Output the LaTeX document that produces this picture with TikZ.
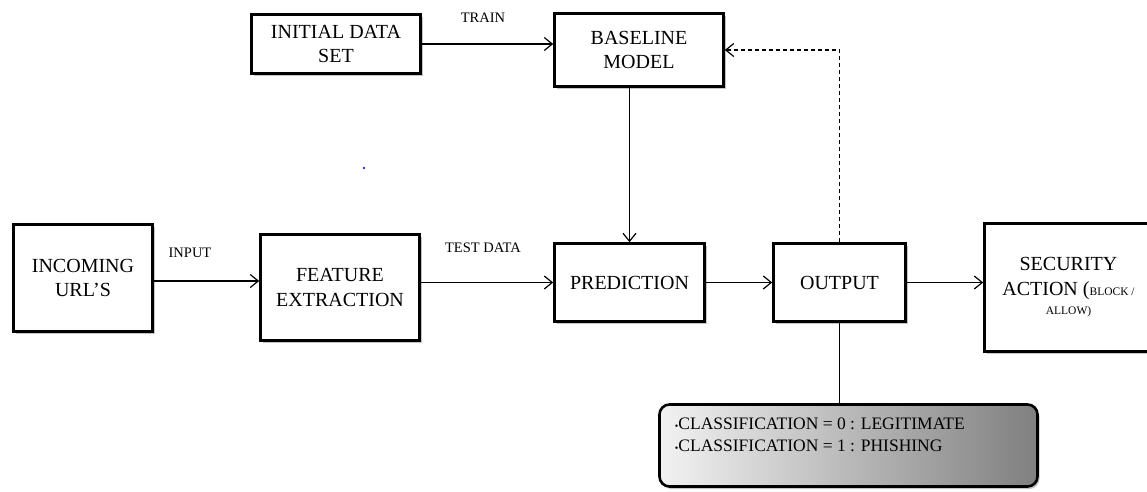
\documentclass[tikz,border=0pt]{standalone}
\usepackage{fontspec}
\setmainfont{Liberation Serif}
\usetikzlibrary{arrows.meta,shadows}
\definecolor{shadowgray}{HTML}{8c8c8c}
\definecolor{dotblue}{HTML}{3030ff}

\begin{document}
\begin{tikzpicture}[
        box/.style = {draw, rectangle, line width = 2.6pt, fill = white, align = center,
            font = \fontsize{20}{24.5}\selectfont,
            drop shadow = {shadow xshift = 2pt, shadow yshift = -2.5pt, fill = shadowgray, opacity = 0.5}},
        link/.style = {-{Straight Barb[length = 8pt, width = 13pt]}, line width = 1.2pt},
        tag/.style = {font = \fontsize{14.5}{16}\selectfont}
    ]
        \useasboundingbox (0pt, 0pt) rectangle (1147pt, -491pt);

        % Nodes
        \node [box, minimum width = 169pt, minimum height = 59pt] (init) at (336pt, -44pt) {INITIAL DATA\\SET};
        \node [box, minimum width = 169pt, minimum height = 73pt] (base) at (639pt, -50pt) {BASELINE\\MODEL};
        \node [box, minimum width = 139pt, minimum height = 107pt] (inc) at (83pt, -278pt) {INCOMING\\URL’S};
        \node [box, minimum width = 159pt, minimum height = 106pt] (feat) at (340pt, -287.5pt) {FEATURE\\EXTRACTION};
        \node [box, minimum width = 150pt, minimum height = 78pt] (pred) at (629.5pt, -282.5pt) {PREDICTION};
        \node [box, minimum width = 132pt, minimum height = 78pt] (out) at (839.5pt, -282.5pt) {OUTPUT};
        \node [box, minimum width = 168pt, minimum height = 128pt] (sec) at (1068.5pt, -287.5pt)
            {SECURITY\\ACTION ({\fontsize{11.5}{12}\selectfont BLOCK /}\\[-5pt]{\fontsize{11.5}{12}\selectfont ALLOW)}};
        \node [box, rounded corners = 10pt, left color = black!5, right color = black!50,
            minimum width = 378pt, minimum height = 82pt] (cls) at (848.5pt, -445.5pt) {};
        \node [anchor = west, align = left, inner sep = 0pt, font = \fontsize{17.5}{22}\selectfont] (clstext)
            at ([xshift = 16.5pt, yshift = -31.5pt] cls.north west)
            {{\fontsize{10}{10}\selectfont •}CLASSIFICATION = 0 : LEGITIMATE\\{\fontsize{10}{10}\selectfont •}CLASSIFICATION = 1 : PHISHING};

        % stray dot
        \fill [dotblue] (364pt, -168pt) circle (1.3pt);

        % Draw the links
        \draw [link] (init.east) -- (init.east -| base.west);
        \draw [link] ([yshift = -3pt] inc.east) -- ([yshift = -3pt] inc.east -| feat.west);
        \draw [link] (feat.east |- pred) -- (pred.west);
        \draw [link] (pred) -- (out);
        \draw [link] (out) -- (out -| sec.west);
        \draw [link] (base.south -| pred) -- (pred);
        \draw [link, dashed, dash pattern = on 4pt off 3pt] (out.north) |- (base.east);
        \draw [line width = 1.2pt] (out.south) -- (out.south |- cls.north);

        % Link labels
        \node [tag] (train) at (483pt, -18pt) {TRAIN};
        \node [tag] (input) at (190pt, -253pt) {INPUT};
        \node [tag] (test) at (483pt, -248pt) {TEST DATA};

    \end{tikzpicture}
\end{document}
